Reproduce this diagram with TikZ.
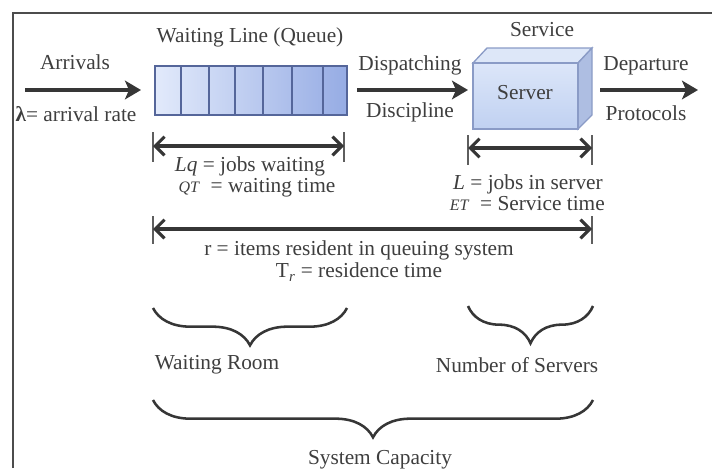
\documentclass[tikz,border=0pt]{standalone}
\usepackage{fontspec}
\setmainfont{Liberation Serif}
\usetikzlibrary{arrows.meta,decorations.pathreplacing,shadings}
\definecolor{txt}{HTML}{3E3E3E}
\definecolor{arr}{HTML}{363636}
\definecolor{qedge}{HTML}{55669A}
\definecolor{bedge}{HTML}{8A9BC6}
\definecolor{qleft}{HTML}{E2EAFB}
\definecolor{qright}{HTML}{96ACE4}
\definecolor{btop}{HTML}{DDE7F8}
\definecolor{bside}{HTML}{AEBEE2}
\definecolor{bfronta}{HTML}{DCE6F9}
\definecolor{bfrontb}{HTML}{C0D1F1}
\tikzset{
  lbl/.style={text=txt,font=\fontsize{16}{18}\selectfont,inner sep=0pt},
  bigarrow/.style={draw=arr,line width=3.4pt,-{Stealth[length=12pt,width=14pt,inset=3pt]}},
  dimarrow/.style={draw=arr,line width=2.3pt,{Straight Barb[length=7pt,width=14pt]}-{Straight Barb[length=7pt,width=14pt]}},
  tick/.style={draw=arr!80,line width=1.4pt},
  bracestyle/.style={draw=arr,line width=1.9pt,decorate,decoration={brace,mirror,amplitude=28pt}}
}
\begin{document}
\begin{tikzpicture}[x=0.75pt,y=-0.75pt]
\useasboundingbox (0,0) rectangle (712,468);
% frame
\draw[draw=black!70,line width=1pt] (13,468) -- (13,13) -- (712,13);

% queue
\shade[left color=qleft,right color=qright,draw=qedge,line width=1.2pt] (155,66) rectangle (347,115);
\foreach \xx in {181,209,235,263,292,323}{
  \draw[qedge,line width=1.4pt] (\xx,66) -- (\xx,115);
}
\node[lbl] (wl) at (250,37) {Waiting Line (Queue)};

% server box
\fill[btop,draw=bedge,line width=1pt] (473,63) -- (487,48) -- (592,48) -- (578,63) -- cycle;
\fill[bside,draw=bedge,line width=1pt] (578,63) -- (592,48) -- (592,115) -- (578,129) -- cycle;
\shade[top color=bfronta,bottom color=bfrontb,draw=bedge,line width=1pt] (473,63) rectangle (578,129);
\node[lbl] (server) at (525,93) {Server};
\node[lbl] (service) at (542,30) {Service};

% arrivals
\coordinate (astart) at (25,90);
\coordinate (aend) at (141,90);
\draw[bigarrow] (astart) -- (aend);
\node[lbl] (arrivals) at (75,62) {Arrivals};
\node[lbl] (rate) at (76,114) {\textbf{λ}= arrival rate};

% dispatching
\coordinate (dstart) at (357,90);
\coordinate (dstop) at (468,90);
\draw[bigarrow] (dstart) -- (dstop);
\node[lbl] (disp) at (410,65) {Dispatching};
\node[lbl] (disc) at (410,112) {Discipline};

% departure
\coordinate (pstart) at (600,90);
\coordinate (dend) at (698,90);
\draw[bigarrow] (pstart) -- (dend);
\node[lbl] (dep) at (646,66) {Departure};
\node[lbl] (prot) at (646,113) {Protocols};

% dimension: Lq
\coordinate (lqa) at (153,146);
\coordinate (lqb) at (344,146);
\draw[tick] (153,132) -- (153,162);
\draw[tick] (344,132) -- (344,162);
\draw[dimarrow] (lqa) -- (lqb);
\node[lbl] (lq) at (250,166) {\textit{Lq} = jobs waiting};
\node[lbl] (qt) at (257,188) {{\fontsize{12}{14}\selectfont\textit{QT}}\ \ = waiting time};

% dimension: L
\coordinate (la) at (468,148);
\coordinate (lb) at (592,148);
\draw[tick] (468,135) -- (468,165);
\draw[tick] (592,135) -- (592,165);
\draw[dimarrow] (la) -- (lb);
\node[lbl,anchor=east] (ljobs) at (603,184) {\textit{L} = jobs in server};
\node[lbl,anchor=east] (et) at (605,204) {{\fontsize{12}{14}\selectfont\textit{ET}}\ \ = Service time};

% dimension: r
\coordinate (ra) at (153,229);
\coordinate (rb) at (592,229);
\draw[tick] (153,216) -- (153,244);
\draw[tick] (592,216) -- (592,244);
\draw[dimarrow] (ra) -- (rb);
\node[lbl] (rtxt) at (359,250) {r = items resident in queuing system};
\node[lbl] (trtxt) at (359,272) {T\textsubscript{\textit{r}} = residence time};

% braces
\draw[bracestyle] (153,308) -- (347,308);
\node[lbl] (wroom) at (217,365) {Waiting Room};
\draw[bracestyle] (468,306) -- (593,306);
\node[lbl] (nserv) at (517,365) {Number of Servers};
\draw[bracestyle] (153,400) -- (593,400);
\node[lbl] (cap) at (380,460) {System Capacity};
\end{tikzpicture}
\end{document}
